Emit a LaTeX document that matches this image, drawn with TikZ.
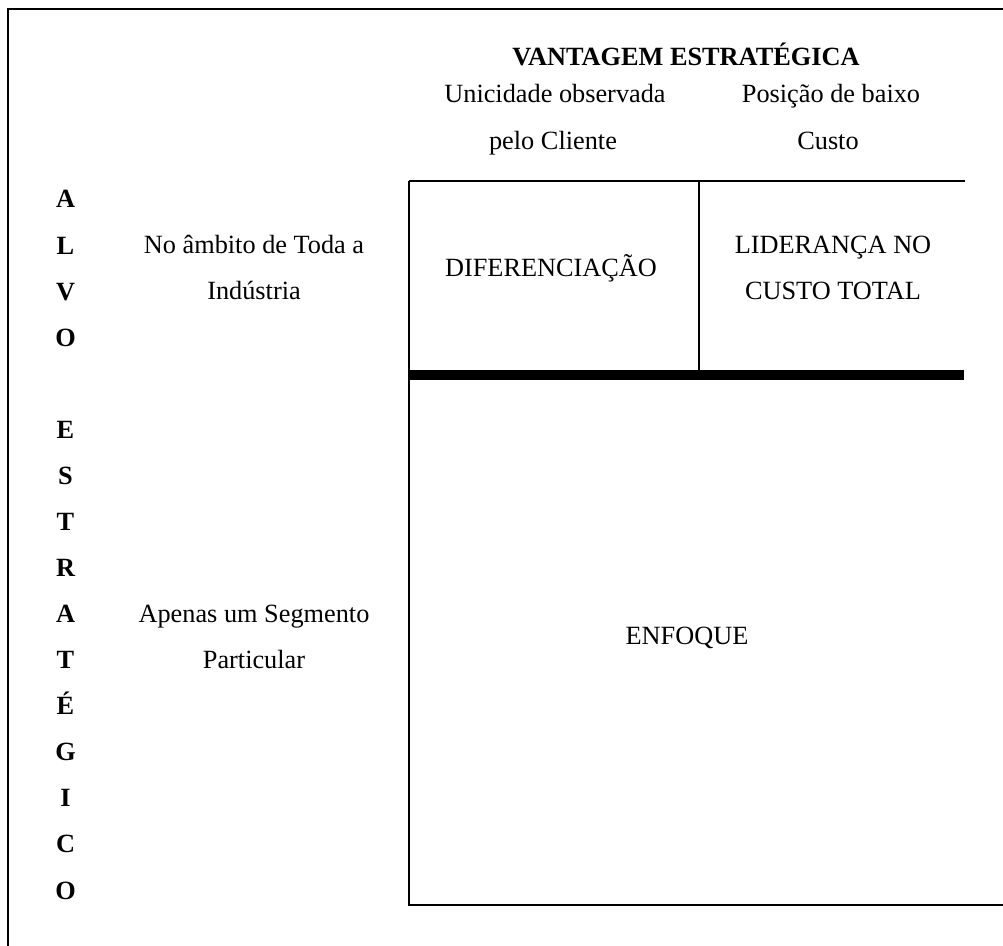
\documentclass[tikz,border=0pt]{standalone}
\usepackage{fontspec}
\setmainfont{Liberation Serif}
\usepackage{tikz}
\tikzstyle{txt} = [font=\fontsize{13.15}{15}\selectfont, inner sep=0pt, anchor=base]
\tikzstyle{letra} = [txt, font=\fontsize{13.15}{15}\selectfont\bfseries]
\tikzstyle{fina} = [line width=1pt]

\begin{document}
\begin{tikzpicture}[x=0.5pt,y=-0.5pt]
			\useasboundingbox (0,0) rectangle (1003,946);
			% moldura
			\draw[line width=1.35pt] (8,946)--(8,9)--(1003,9);
			% quadro
			\draw[fina] (409,181)--(965,181);
			\draw[fina] (409,181)--(409,905)--(1003,905);
			\draw[fina] (699,181)--(699,370);
			\draw[line width=5pt] (409,375)--(964,375);
			% cabecalho
			\node[letra] (titulo) at (686,66) {VANTAGEM ESTRAT\'EGICA};
			\node[txt] (unic1) at (555,103) {Unicidade observada};
			\node[txt] (unic2) at (553,150) {pelo Cliente};
			\node[txt] (pos1) at (831,103) {Posição de baixo};
			\node[txt] (pos2) at (828,150) {Custo};
			% alvo estrategico
			\foreach \l/\r in {A/0,L/1,V/2,O/3,E/5,S/6,T/7,R/8,A/9,T/10,É/11,G/12,I/13,C/14,O/15}
				\node[letra] (alvo\r) at (65.5,208+46.07*\r) {\l};
			\node[txt] (toda1) at (254,254) {No âmbito de Toda a};
			\node[txt] (toda2) at (254,300) {Indústria};
			\node[txt] (seg1) at (254,622.6) {Apenas um Segmento};
			\node[txt] (seg2) at (254,668.7) {Particular};
			% estrategias
			\node[txt] (dif) at (551,277) {DIFERENCIAÇÃO};
			\node[txt] (lid1) at (833,254) {LIDERANÇA NO};
			\node[txt] (lid2) at (833,300) {CUSTO TOTAL};
			\node[txt] (enf) at (687,645) {ENFOQUE};
		\end{tikzpicture}
\end{document}
